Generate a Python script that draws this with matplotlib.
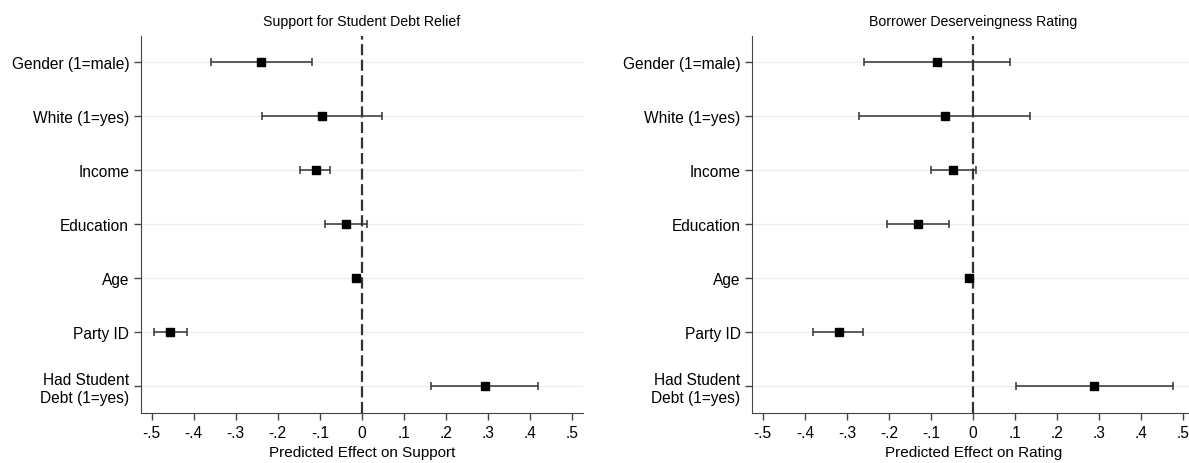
import matplotlib.pyplot as plt
import numpy as np

plt.rcParams['font.family'] = ['Liberation Sans', 'DejaVu Sans']

labels = ['Gender (1=male)', 'White (1=yes)', 'Income', 'Education', 'Age',
          'Party ID', 'Had Student\nDebt (1=yes)']

# support for debt relief
sup_est = [-0.239, -0.094, -0.110, -0.037, -0.013, -0.455, 0.292]
sup_lo = [-0.359, -0.237, -0.146, -0.087, -0.018, -0.495, 0.165]
sup_hi = [-0.119, 0.048, -0.075, 0.013, -0.008, -0.415, 0.418]

# deservingness rating
rat_est = [-0.086, -0.068, -0.047, -0.132, -0.011, -0.320, 0.288]
rat_lo = [-0.260, -0.272, -0.099, -0.205, -0.016, -0.381, 0.101]
rat_hi = [0.088, 0.134, 0.007, -0.057, -0.006, -0.262, 0.474]

ticks = [-0.5, -0.4, -0.3, -0.2, -0.1, 0, 0.1, 0.2, 0.3, 0.4, 0.5]
tick_labels = ['-.5', '-.4', '-.3', '-.2', '-.1', '0', '.1', '.2', '.3', '.4', '.5']


def coefplot(ax, est, lo, hi, title, xlabel):
    y = np.arange(1, len(est) + 1)
    est = np.array(est)
    err = [est - np.array(lo), np.array(hi) - est]
    for yy in y:
        ax.axhline(yy, color='#e8eff1', lw=1, zorder=0)
    ax.axvline(0, color='#333333', lw=1.6, ls=(0, (5, 2)), zorder=1)
    ax.errorbar(est, y, xerr=err, fmt='s', color='black', ms=5.2,
                ecolor='#333333', elinewidth=1.1, capsize=2.8, capthick=1.1, zorder=3)
    ax.set_ylim(7.5, 0.52)
    ax.set_xlim(-0.525, 0.525)
    ax.set_yticks(y)
    ax.set_yticklabels(labels, fontsize=11.2)
    ax.set_xticks(ticks)
    ax.set_xticklabels(tick_labels, fontsize=11.2)
    ax.set_title(title, fontsize=10.2, pad=8)
    ax.set_xlabel(xlabel, fontsize=11, labelpad=4)
    ax.spines['top'].set_visible(False)
    ax.spines['right'].set_visible(False)
    ax.spines['left'].set_color('#444444')
    ax.spines['bottom'].set_color('#444444')
    ax.tick_params(axis='both', length=5, color='#444444', width=1)


fig = plt.figure(figsize=(11.89, 4.64), dpi=100)
ax1 = fig.add_axes([0.1186, 0.1078, 0.3715, 0.8118])
ax2 = fig.add_axes([0.6327, 0.1078, 0.3715, 0.8118])

coefplot(ax1, sup_est, sup_lo, sup_hi, 'Support for Student Debt Relief',
         'Predicted Effect on Support')
coefplot(ax2, rat_est, rat_lo, rat_hi, 'Borrower Deserveingness Rating',
         'Predicted Effect on Rating')

fig.savefig('out.png', dpi=100)
